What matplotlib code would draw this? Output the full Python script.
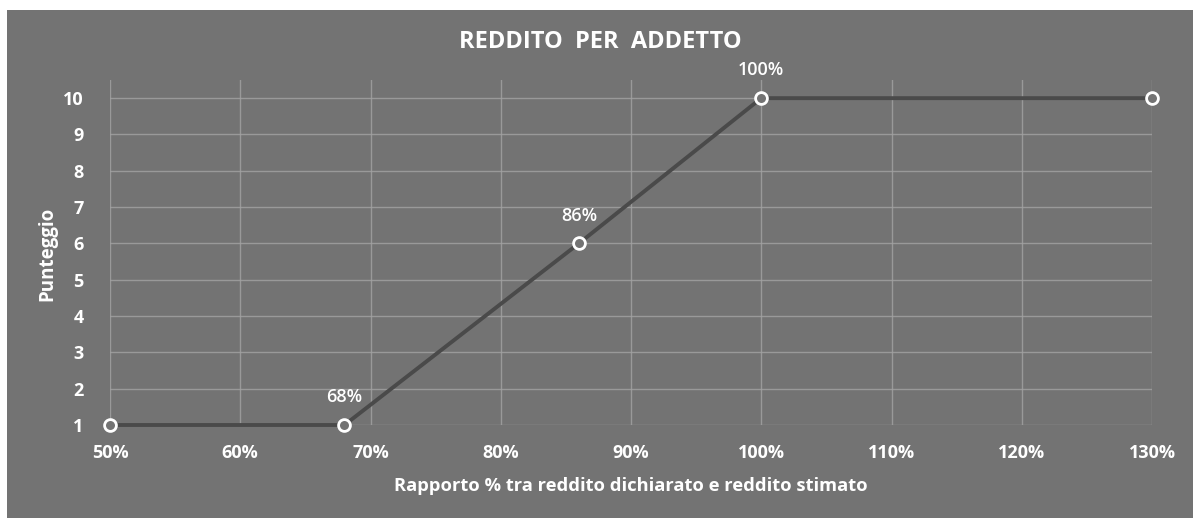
import matplotlib.pyplot as plt
from matplotlib.patches import Rectangle

plt.rcParams['font.family'] = ['Open Sans', 'DejaVu Sans']

# Dati
rapporto = [50, 68, 86, 100, 130]
punteggio = [1, 1, 6, 10, 10]
etichette = ['', '68%', '86%', '100%', '']
tick_x = [50, 60, 70, 80, 90, 100, 110, 120, 130]
tick_y = [1, 2, 3, 4, 5, 6, 7, 8, 9, 10]

sfondo = '#737373'
griglia = '#a3a3a3'
linea = '#4a4a4a'

W, H = 1193, 518
fig = plt.figure(figsize=(W / 100, H / 100), dpi=100)
fig.patch.set_facecolor('white')
fig.patches.append(Rectangle((7 / W, 0), 1 - 7 / W, (H - 10) / H,
                             transform=fig.transFigure, facecolor=sfondo,
                             edgecolor='none', zorder=-10))

ax = fig.add_axes([110 / W, (H - 425) / H, (1152 - 110) / W, (425 - 80) / H])
ax.set_zorder(1)
ax.set_facecolor('none')
ax.set_xlim(50, 130)
ax.set_ylim(1, 10.5)

ax.set_xticks(tick_x)
ax.set_xticklabels([f'{t}%' for t in tick_x])
ax.set_yticks(tick_y)
ax.grid(True, color=griglia, linewidth=1, alpha=0.8)
ax.set_axisbelow(True)
for s in ax.spines.values():
    s.set_visible(False)
ax.tick_params(length=0, colors='white', labelsize=13)
ax.tick_params(axis='x', pad=14)
ax.tick_params(axis='y', pad=19)
for lab in ax.get_xticklabels() + ax.get_yticklabels():
    lab.set_fontweight('bold')

ax.plot(rapporto, punteggio, color=linea, linewidth=2.8, zorder=3,
        marker='o', markersize=8.5, markerfacecolor=sfondo,
        markeredgecolor='white', markeredgewidth=2, clip_on=False)

for x, y, t in zip(rapporto, punteggio, etichette):
    if t:
        ax.annotate(t, (x, y), xytext=(0, 20), textcoords='offset points',
                    ha='center', va='center', color='white', fontsize=13,
                    fontweight='semibold')

fig.text(600 / W, 1 - 42 / H, 'REDDITO  PER  ADDETTO', ha='center', va='center',
         color='white', fontsize=17, fontweight='bold')
fig.text(47 / W, 1 - 254 / H, 'Punteggio', ha='center', va='center', rotation=90,
         color='white', fontsize=13.5, fontweight='bold')
fig.text(631 / W, 1 - 486 / H, 'Rapporto % tra reddito dichiarato e reddito stimato',
         ha='center', va='center', color='white', fontsize=13.2, fontweight='bold')

fig.savefig('out.png', dpi=100)
